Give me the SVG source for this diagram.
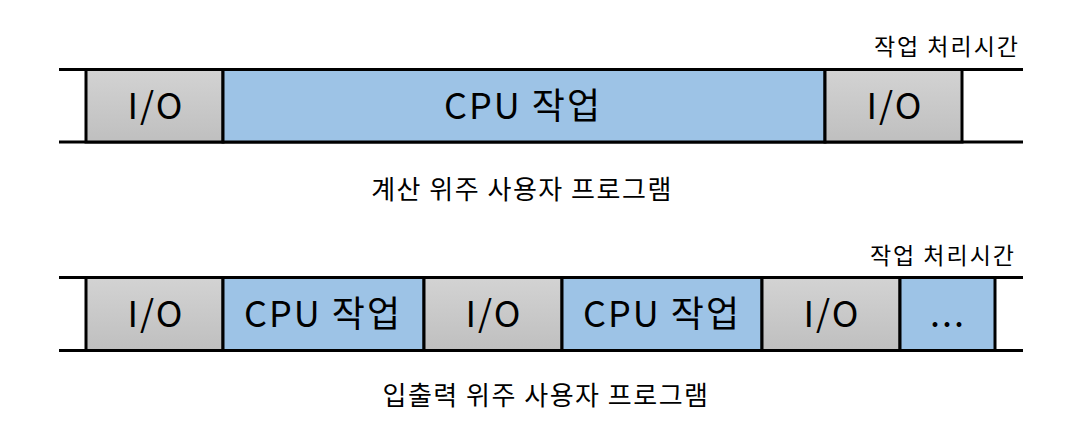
<svg xmlns="http://www.w3.org/2000/svg" width="1078" height="426" viewBox="0 0 1078 426">
  <defs>
    <linearGradient id="gray" x1="0" y1="0" x2="0" y2="1">
      <stop offset="0" stop-color="#d3d3d3"/>
      <stop offset="1" stop-color="#bfbfbf"/>
    </linearGradient>
    <style>
      .io { fill: url(#gray); stroke: #000; stroke-width: 3; }
      .cpu { fill: #9dc3e6; stroke: #000; stroke-width: 3; }
      .rail { stroke: #000; stroke-width: 3; }
      .big { font-family: "Noto Sans CJK KR", "Noto Sans", sans-serif; font-size: 36px; letter-spacing: 2px; fill: #000; text-anchor: middle; }
      .cap { font-family: "Noto Sans CJK KR", "Noto Sans", sans-serif; font-size: 26px; letter-spacing: 1.5px; fill: #000; text-anchor: middle; }
      .time { font-family: "Noto Sans CJK KR", "Noto Sans", sans-serif; font-size: 23px; letter-spacing: 2px; fill: #000; text-anchor: end; }
    </style>
  </defs>
  <rect width="1078" height="426" fill="#fff"/>

  <g id="connectors">
    <line class="rail" x1="59" y1="69.5" x2="1023" y2="69.5"/>
    <line class="rail" x1="59" y1="142" x2="1023" y2="142"/>
    <line class="rail" x1="59" y1="277.5" x2="1023" y2="277.5"/>
    <line class="rail" x1="59" y1="350.5" x2="1023" y2="350.5"/>
  </g>

  <g id="row1">
    <g id="r1-io1"><rect class="io" x="86" y="69.5" width="137" height="72.5"/><text class="big" x="156" y="119">I/O</text></g>
    <g id="r1-cpu"><rect class="cpu" x="223" y="69.5" width="602" height="72.5"/><text class="big" x="523" y="119">CPU 작업</text></g>
    <g id="r1-io2"><rect class="io" x="825" y="69.5" width="137" height="72.5"/><text class="big" x="895" y="119">I/O</text></g>
    <text class="time" x="1020" y="55">작업 처리시간</text>
    <text class="cap" x="522" y="199">계산 위주 사용자 프로그램</text>
  </g>

  <g id="row2">
    <g id="r2-io1"><rect class="io" x="86" y="277.5" width="137" height="73"/><text class="big" x="156" y="327">I/O</text></g>
    <g id="r2-cpu1"><rect class="cpu" x="223" y="277.5" width="201" height="73"/><text class="big" x="323" y="327">CPU 작업</text></g>
    <g id="r2-io2"><rect class="io" x="424" y="277.5" width="138" height="73"/><text class="big" x="494" y="327">I/O</text></g>
    <g id="r2-cpu2"><rect class="cpu" x="562" y="277.5" width="200" height="73"/><text class="big" x="662" y="327">CPU 작업</text></g>
    <g id="r2-io3"><rect class="io" x="762" y="277.5" width="138" height="73"/><text class="big" x="832" y="327">I/O</text></g>
    <g id="r2-more"><rect class="cpu" x="900" y="277.5" width="95" height="73"/><text class="big" x="948" y="327">...</text></g>
    <text class="time" x="1016" y="264">작업 처리시간</text>
    <text class="cap" x="546" y="405">입출력 위주 사용자 프로그램</text>
  </g>
</svg>
